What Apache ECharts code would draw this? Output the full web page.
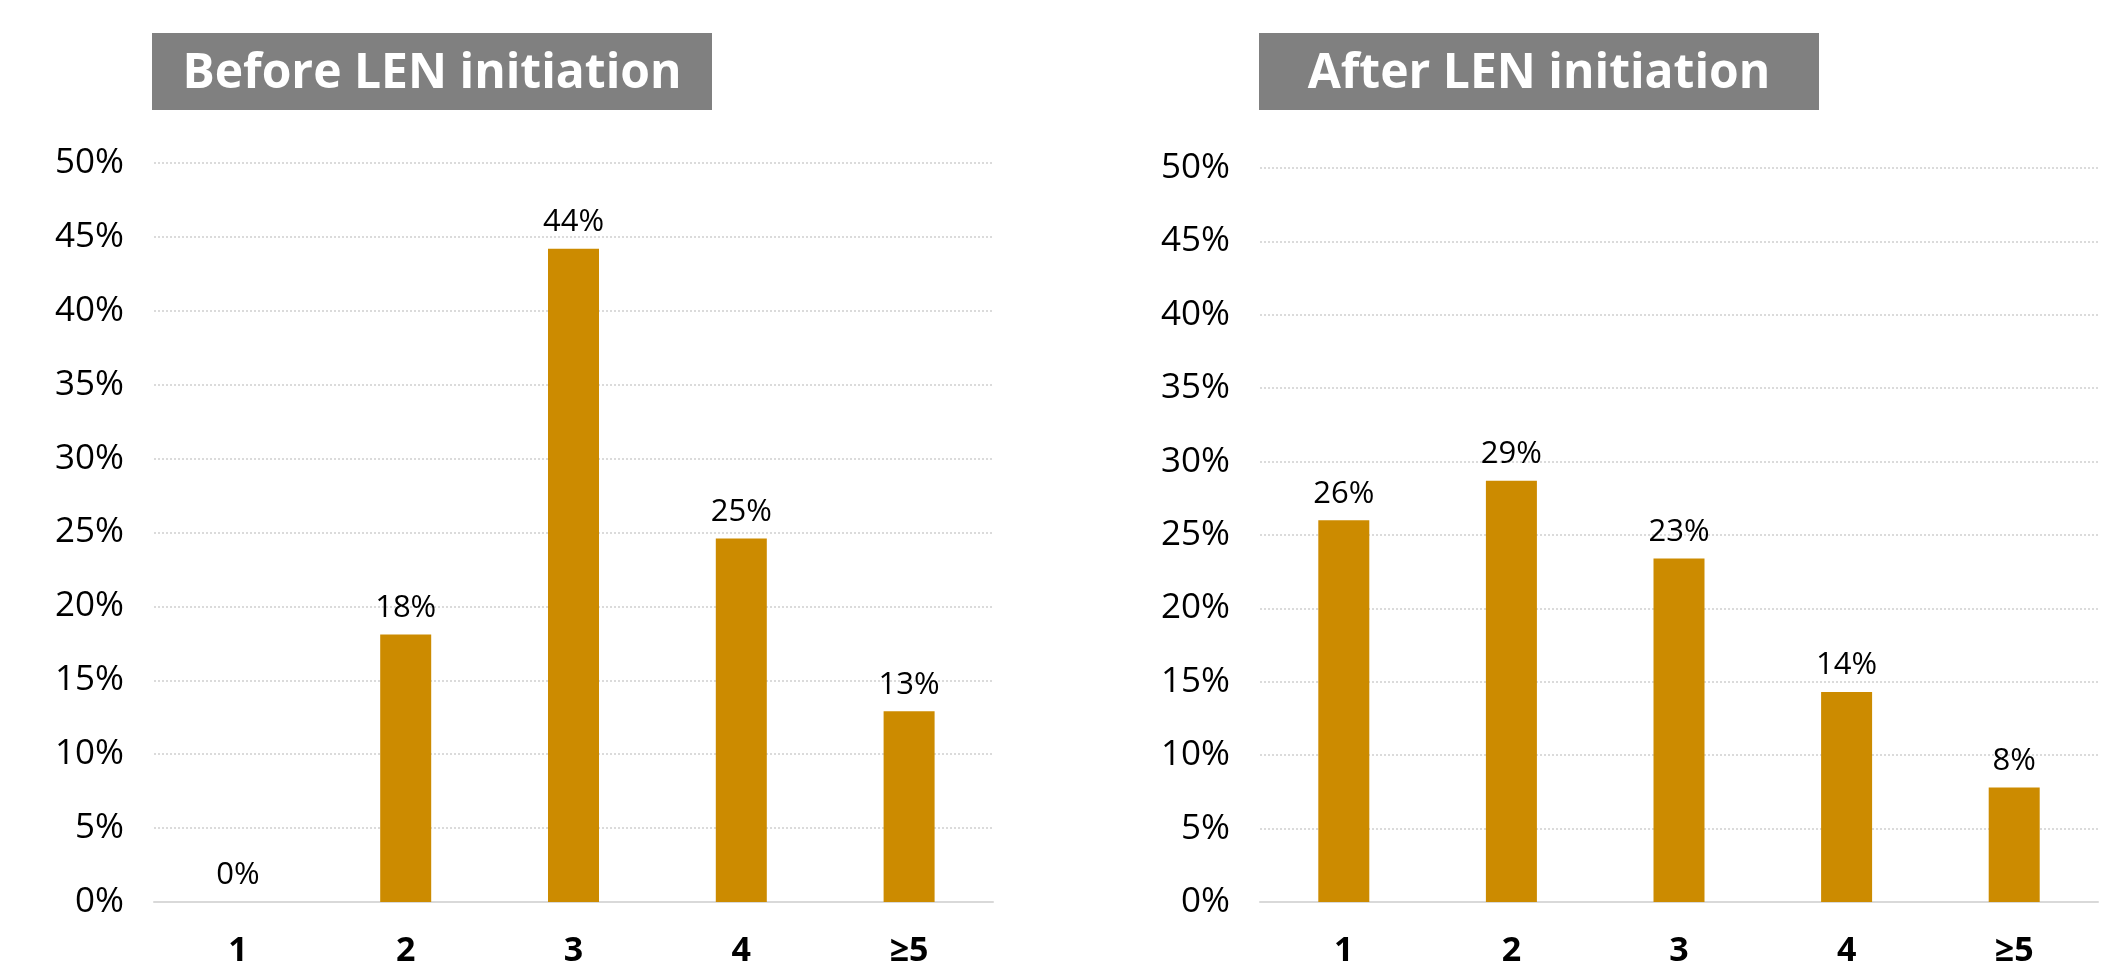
<!DOCTYPE html>
<html>
<head>
<meta charset="utf-8">
<style>html,body{margin:0;padding:0;background:#fff;}#chart{width:2114px;height:967px;}</style>
<script src="https://cdn.jsdelivr.net/npm/echarts@6/dist/echarts.min.js"></script>
</head>
<body>
<div id="chart"></div>
<script>
// data
const categories = ["1", "2", "3", "4", "≥5"];
const beforeValues = [0, 18.1, 44.2, 24.6, 12.9];
const afterValues = [26.0, 28.7, 23.4, 14.3, 7.8];
const panelTitles = ["Before LEN initiation", "After LEN initiation"];
const yTicks = { min: 0, max: 50, interval: 5 };

const barColor = "#CC8B00";
const font = "'Open Sans', sans-serif";

const chart = echarts.init(document.getElementById("chart"), null, { renderer: "canvas" });

function titleBox(x, text) {
  return {
    type: "group",
    left: x,
    top: 33,
    children: [
      { type: "rect", shape: { x: 0, y: 0, width: 560, height: 77 }, style: { fill: "#808080" } },
      {
        type: "text",
        x: 280,
        y: 41,
        style: {
          text: text,
          fill: "#fff",
          font: "bold 48px " + font,
          align: "center",
          verticalAlign: "middle",
        },
      },
    ],
  };
}

function xAxis(gridIndex) {
  return {
    type: "category",
    gridIndex: gridIndex,
    data: categories,
    axisTick: { show: false },
    axisLine: { lineStyle: { color: "#d9d9d9", width: 2 } },
    axisLabel: { color: "#000", fontFamily: font, fontWeight: "bold", fontSize: 34, margin: 32 },
  };
}

function yAxis(gridIndex) {
  return {
    type: "value",
    gridIndex: gridIndex,
    min: yTicks.min,
    max: yTicks.max,
    interval: yTicks.interval,
    axisLine: { show: false },
    axisTick: { show: false },
    axisLabel: { color: "#000", fontFamily: font, fontSize: 35, margin: 30, formatter: "{value}%" },
    splitLine: { lineStyle: { color: "#d0d0d0", type: [2, 2], width: 1.5 } },
  };
}

function barSeries(idx, values) {
  return {
    type: "bar",
    xAxisIndex: idx,
    yAxisIndex: idx,
    data: values,
    barWidth: 51,
    itemStyle: { color: barColor },
    label: {
      show: true,
      position: "top",
      distance: 11,
      color: "#000",
      fontFamily: font,
      fontSize: 31,
      formatter: (p) => Math.round(p.value) + "%",
    },
  };
}

chart.setOption({
  animation: false,
  backgroundColor: "#fff",
  grid: [
    { left: 154, right: 2114 - 993, top: 163, bottom: 967 - 902, outerBoundsMode: "none", containLabel: false },
    { left: 1260, right: 2114 - 2098, top: 168, bottom: 967 - 902, outerBoundsMode: "none", containLabel: false },
  ],
  xAxis: [xAxis(0), xAxis(1)],
  yAxis: [yAxis(0), yAxis(1)],
  series: [barSeries(0, beforeValues), barSeries(1, afterValues)],
  graphic: [titleBox(152, panelTitles[0]), titleBox(1259, panelTitles[1])],
});
</script>
</body>
</html>
